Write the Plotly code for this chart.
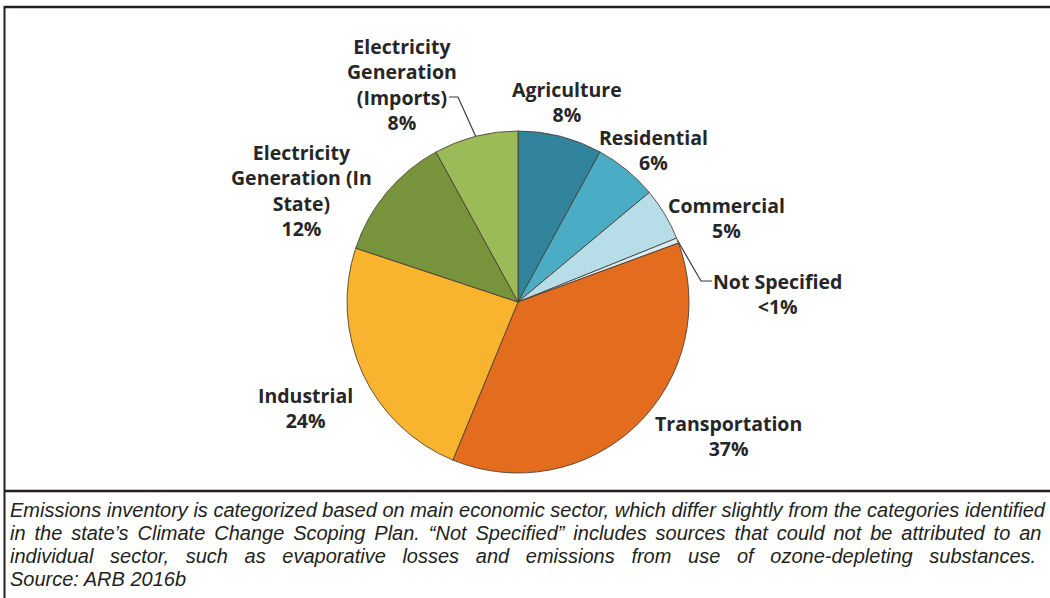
import math
import plotly.graph_objects as go

# Sector shares of statewide GHG emissions (percent), clockwise from 12 o'clock
sectors = [
    "Agriculture",
    "Residential",
    "Commercial",
    "Not Specified",
    "Transportation",
    "Industrial",
    "Electricity<br>Generation (In<br>State)",
    "Electricity<br>Generation<br>(Imports)",
]
shares = [8, 6, 5, 0.5, 37, 24, 12, 8]
colors = ["#31849B", "#4BACC6", "#B7DEE8", "#D6ECF3",
          "#E46C1E", "#F9B42F", "#77933C", "#9BBB59"]

caption_lines = [
    "Emissions inventory is categorized based on main economic sector, which differ slightly from the categories identified",
    "in the state\u2019s Climate Change Scoping Plan. \u201cNot Specified\u201d includes sources that could not be attributed to an",
    "individual sector, such as evaporative losses and emissions from use of ozone-depleting substances.",
    "Source: ARB 2016b",
]
# extra word spacing per caption line (justified paragraph)
caption_gap = ["", "\u200a\u200a", "\u00a0\u00a0", ""]

W, H = 1050, 598


def px(x):
    return x / W


def py(y):
    return 1 - y / H


def pct_text(v):
    return "<1%" if v < 1 else f"{v:g}%"


# pie geometry in page pixels
CX, CY, R = 518, 302, 171

fig = go.Figure(go.Pie(
    labels=[s.replace("<br>", " ") for s in sectors],
    values=shares,
    sort=False,
    direction="clockwise",
    rotation=0,
    textinfo="none",
    hoverinfo="label+percent",
    marker=dict(colors=colors, line=dict(color="rgba(70,60,50,0.85)", width=1)),
    domain=dict(x=[px(CX - R), px(CX + R)], y=[py(CY + R), py(CY - R)]),
    showlegend=False,
))

# label block centres (px)
label_pos = {
    "Agriculture": (567, 102),
    "Residential": (653, 150),
    "Commercial": (726, 218),
    "Not Specified": (777, 294),
    "Transportation": (728, 436),
    "Industrial": (305, 408),
    "Electricity<br>Generation (In<br>State)": (301, 190),
    "Electricity<br>Generation<br>(Imports)": (402, 84),
}

annotations = []
for name, v in zip(sectors, shares):
    x, y = label_pos[name]
    annotations.append(dict(
        x=px(x), y=py(y), xref="paper", yref="paper",
        text=f"<b>{name}<br>{pct_text(v)}</b>",
        showarrow=False, xanchor="center", yanchor="middle", align="center",
        font=dict(family="Open Sans", size=19.5, color="#262626"),
    ))

# mid-angle edge points for slices that get leader lines
total = sum(shares)
edge = {}
cum = 0.0
for name, v in zip(sectors, shares):
    mid = (cum + v / 2) / total * 2 * math.pi
    edge[name] = (CX + R * math.sin(mid), CY - R * math.cos(mid))
    cum += v

shapes = []


def leader(points):
    d = "M " + " L ".join(f"{px(x)},{py(y)}" for x, y in points)
    shapes.append(dict(type="path", path=d, xref="paper", yref="paper",
                       line=dict(color="#3a3a3a", width=1.2)))


ex, ey = edge["Electricity<br>Generation<br>(Imports)"]
leader([(449, 97), (458, 97), (ex, ey)])
ex, ey = edge["Not Specified"]
leader([(ex, ey), (701, 281), (712, 281)])

# frame: top rule, left rule, caption divider
frame_col = "#231F20"
shapes += [
    dict(type="line", xref="paper", yref="paper", x0=px(4), x1=1.0, y0=py(7), y1=py(7),
         line=dict(color=frame_col, width=2.5)),
    dict(type="line", xref="paper", yref="paper", x0=px(4.5), x1=px(4.5), y0=py(6), y1=0,
         line=dict(color=frame_col, width=2)),
    dict(type="line", xref="paper", yref="paper", x0=px(4), x1=1.0, y0=py(491), y1=py(491),
         line=dict(color=frame_col, width=2.5)),
]

for i, (line, gap) in enumerate(zip(caption_lines, caption_gap)):
    spaced = line.replace(" ", gap + " ") if gap else line
    annotations.append(dict(
        x=px(8), y=py(510 + i * 23), xref="paper", yref="paper",
        text=f"<i>{spaced}</i>", showarrow=False, xanchor="left", yanchor="middle",
        font=dict(family="Liberation Sans", size=20, color="#231F20"),
    ))

fig.update_layout(
    width=W, height=H,
    margin=dict(l=0, r=0, t=0, b=0),
    paper_bgcolor="white", plot_bgcolor="white",
    annotations=annotations, shapes=shapes,
)

fig.write_html("out.html")
